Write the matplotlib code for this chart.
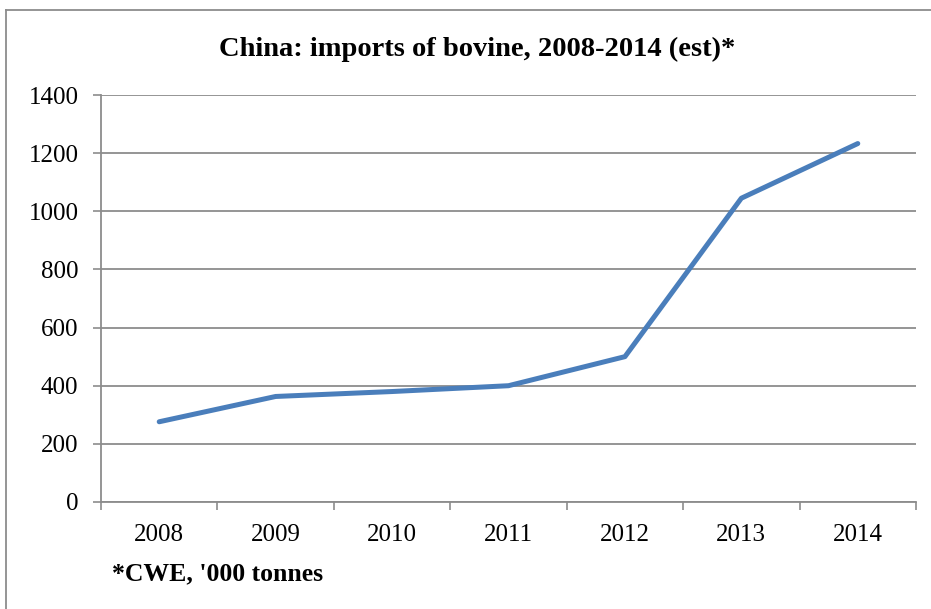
import matplotlib
matplotlib.use("Agg")
import matplotlib.pyplot as plt
from matplotlib.lines import Line2D

years = ["2008", "2009", "2010", "2011", "2012", "2013", "2014"]
imports = [276, 363, 380, 400, 500, 1045, 1233]
yticks = [0, 200, 400, 600, 800, 1000, 1200, 1400]

plt.rcParams['font.family'] = ['Liberation Serif', 'DejaVu Serif']

fig = plt.figure(figsize=(9.31, 6.09), dpi=100)
ax = fig.add_axes([101/931, 1-502/609, 815/931, 407/609])

x = list(range(len(years)))
ax.plot(x, imports, color='#4A7EBB', lw=3.6, solid_capstyle='round', solid_joinstyle='round', zorder=3)

ax.set_xlim(-0.5, len(years) - 0.5)
ax.set_ylim(0, 1400)
ax.set_yticks(yticks)
ax.set_yticklabels([str(v) for v in yticks], fontsize=18)
ax.yaxis.grid(True, color='#8C8C8C', lw=1.3)
ax.set_axisbelow(True)

# category ticks at boundaries, labels centered
ax.set_xticks([i - 0.5 for i in range(len(years) + 1)])
ax.set_xticklabels([])
ax.set_xticks(x, minor=True)
ax.set_xticklabels(years, minor=True, fontsize=18)
ax.tick_params(axis='x', which='minor', length=0, pad=16)
ax.tick_params(axis='x', which='major', length=5.8, color='#8C8C8C', width=1.2)
ax.tick_params(axis='y', length=5.8, color='#8C8C8C', width=1.2, pad=10.5)

for s in ['top', 'right']:
    ax.spines[s].set_visible(False)
for s in ['left', 'bottom']:
    ax.spines[s].set_color('#8C8C8C')
    ax.spines[s].set_linewidth(1.3)

fig.text(477/931, 1-55.7/609, "China: imports of bovine, 2008-2014 (est)*", ha='center', va='baseline',
         fontsize=20.5, fontweight='bold')
fig.text(112/931, 1-580/609, "*CWE, '000 tonnes", ha='left', va='baseline', fontsize=18.5, fontweight='bold')

# outer border (left and top visible)
fig.add_artist(Line2D([6/931, 6/931], [0, 1-10/609], transform=fig.transFigure, color='#8C8C8C', lw=1.3))
fig.add_artist(Line2D([6/931, 1], [1-10/609, 1-10/609], transform=fig.transFigure, color='#8C8C8C', lw=1.3))

fig.savefig("out.png", dpi=100)
